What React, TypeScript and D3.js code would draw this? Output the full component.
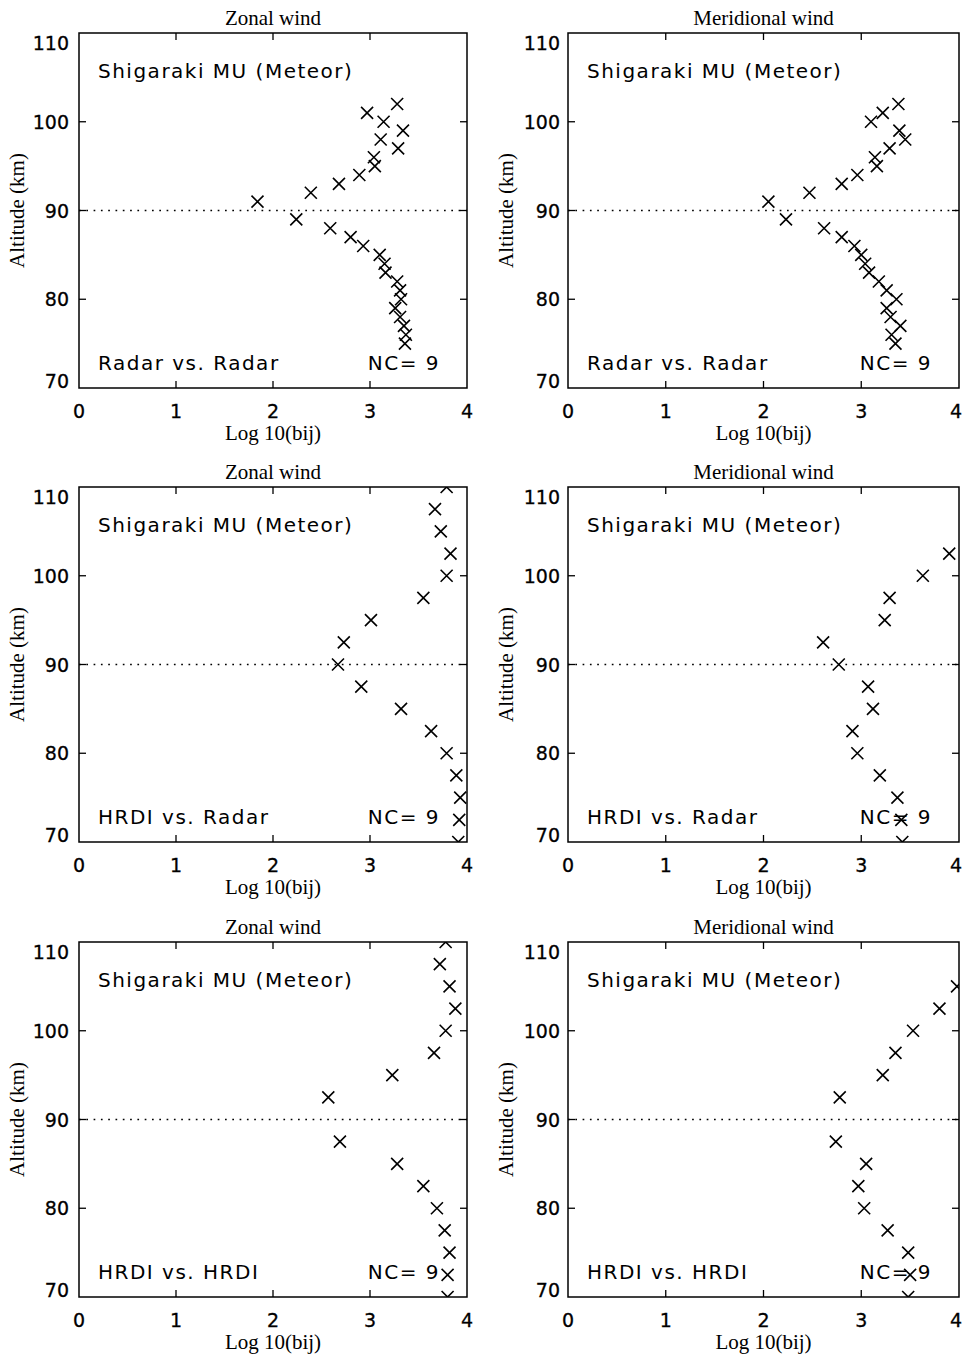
import * as d3 from "d3";

// altitude levels (km)
const altRadar = [102, 101, 100, 99, 98, 97, 96, 95, 94, 93, 92, 91, 89, 88, 87, 86, 85, 84, 83, 82, 81, 80, 79, 78, 77, 76, 75];
const altHrdi = [110, 107.5, 105, 102.5, 100, 97.5, 95, 92.5, 90, 87.5, 85, 82.5, 80, 77.5, 75, 72.5, 70];

// Log10(bij) values (null = not plotted)
const zonalRadarRadar = [3.28, 2.97, 3.14, 3.34, 3.11, 3.29, 3.04, 3.05, 2.89, 2.68, 2.39, 1.84, 2.24, 2.59, 2.8, 2.93, 3.1, 3.15, 3.16, 3.28, 3.31, 3.32, 3.26, 3.31, 3.35, 3.37, 3.36];
const meridRadarRadar = [3.38, 3.22, 3.1, 3.39, 3.45, 3.29, 3.14, 3.16, 2.96, 2.8, 2.47, 2.05, 2.23, 2.62, 2.8, 2.93, 3.0, 3.04, 3.08, 3.18, 3.26, 3.36, 3.26, 3.3, 3.4, 3.31, 3.35];
const zonalHrdiRadar = [3.79, 3.67, 3.73, 3.83, 3.79, 3.55, 3.01, 2.73, 2.67, 2.91, 3.32, 3.63, 3.79, 3.89, 3.93, 3.92, 3.91];
const meridHrdiRadar = [null, null, null, 3.9, 3.63, 3.29, 3.24, 2.61, 2.77, 3.07, 3.12, 2.91, 2.96, 3.19, 3.37, 3.41, 3.42];
const zonalHrdiHrdi = [3.78, 3.72, 3.82, 3.88, 3.78, 3.66, 3.23, 2.57, null, 2.69, 3.28, 3.55, 3.69, 3.77, 3.82, 3.8, 3.8];
const meridHrdiHrdi = [null, null, 3.98, 3.8, 3.53, 3.35, 3.22, 2.78, null, 2.74, 3.05, 2.97, 3.03, 3.27, 3.48, 3.5, 3.48];

const xTicks = [0, 1, 2, 3, 4];
const yTicks = [70, 80, 90, 100, 110];

const panels = [
  { title: "Zonal wind", label: "Radar vs. Radar", alt: altRadar, vals: zonalRadarRadar, col: 0, row: 0 },
  { title: "Meridional wind", label: "Radar vs. Radar", alt: altRadar, vals: meridRadarRadar, col: 1, row: 0 },
  { title: "Zonal wind", label: "HRDI vs. Radar", alt: altHrdi, vals: zonalHrdiRadar, col: 0, row: 1 },
  { title: "Meridional wind", label: "HRDI vs. Radar", alt: altHrdi, vals: meridHrdiRadar, col: 1, row: 1 },
  { title: "Zonal wind", label: "HRDI vs. HRDI", alt: altHrdi, vals: zonalHrdiHrdi, col: 0, row: 2 },
  { title: "Meridional wind", label: "HRDI vs. HRDI", alt: altHrdi, vals: meridHrdiHrdi, col: 1, row: 2 },
];

const colX = [
  [79, 467],
  [568, 959],
];
const rowTop = [33, 487, 942];
const plotH = 355;
const W = 963;

const serif = "'Liberation Serif', 'Times New Roman', serif";
const sans = "'DejaVu Sans', sans-serif";

function Panel({ p, i }: { p: (typeof panels)[number]; i: number }) {
  const [x0, x1] = colX[p.col];
  const top = rowTop[p.row];
  const bottom = top + plotH;
  const x = d3.scaleLinear().domain([0, 4]).range([x0, x1]);
  const y = d3.scaleLinear().domain([70, 110]).range([bottom, top]);
  const pts = p.alt
    .map((a, k) => ({ a, v: p.vals[k] }))
    .filter((d) => d.v !== null) as { a: number; v: number }[];
  const tl = 7;
  const r = 6;
  const clipId = `clip${i}`;

  return (
    <g>
      <defs>
        <clipPath id={clipId}>
          <rect x={x0} y={top} width={x1 - x0} height={plotH} />
        </clipPath>
      </defs>
      <text x={(x0 + x1) / 2} y={top - 8} textAnchor="middle" fontFamily={serif} fontSize={21}>
        {p.title}
      </text>
      {/* dotted line at 90 km */}
      <line x1={x0} x2={x1} y1={y(90)} y2={y(90)} stroke="#000" strokeWidth={1.7} strokeDasharray="1.7,5.6" />
      {/* frame */}
      <rect x={x0} y={top} width={x1 - x0} height={plotH} fill="none" stroke="#000" strokeWidth={1.5} />
      {xTicks.slice(1, -1).map((t) => (
        <g key={"xt" + t}>
          <line x1={x(t)} x2={x(t)} y1={bottom} y2={bottom - tl} stroke="#000" strokeWidth={1.3} />
          <line x1={x(t)} x2={x(t)} y1={top} y2={top + tl} stroke="#000" strokeWidth={1.3} />
        </g>
      ))}
      {yTicks.slice(1, -1).map((t) => (
        <g key={"yt" + t}>
          <line x1={x0} x2={x0 + tl} y1={y(t)} y2={y(t)} stroke="#000" strokeWidth={1.3} />
          <line x1={x1} x2={x1 - tl} y1={y(t)} y2={y(t)} stroke="#000" strokeWidth={1.3} />
        </g>
      ))}
      {xTicks.map((t) => (
        <text
          key={"xl" + t}
          x={Math.min(W - 7, x(t))}
          y={bottom + 30}
          textAnchor="middle"
          fontFamily={sans}
          fontSize={19}
          stroke="#000"
          strokeWidth={0.3}
        >
          {t}
        </text>
      ))}
      {yTicks.map((t) => (
        <text
          key={"yl" + t}
          x={x0 - (p.col === 0 ? 10 : 8)}
          y={Math.max(top + 10, Math.min(bottom - 7, y(t)))}
          textAnchor="end"
          dominantBaseline="central"
          fontFamily={sans}
          fontSize={19}
          stroke="#000"
          strokeWidth={0.3}
        >
          {t}
        </text>
      ))}
      <text x={(x0 + x1) / 2} y={bottom + 52} textAnchor="middle" fontFamily={serif} fontSize={21}>
        Log 10(bij)
      </text>
      <text
        transform={`translate(${x0 - 62},${(top + bottom) / 2}) rotate(-90)`}
        textAnchor="middle"
        dominantBaseline="central"
        fontFamily={serif}
        fontSize={21}
      >
        Altitude (km)
      </text>
      <text x={x0 + 19} y={top + 45} fontFamily={sans} fontSize={20} letterSpacing={1.5}>
        Shigaraki MU (Meteor)
      </text>
      <text x={x0 + 19} y={bottom - 18} fontFamily={sans} fontSize={20} letterSpacing={1.5}>
        {p.label}
      </text>
      <text x={x1 - 27} y={bottom - 18} textAnchor="end" fontFamily={sans} fontSize={20} letterSpacing={1.5}>
        NC= 9
      </text>
      <g clipPath={`url(#${clipId})`}>
        {pts.map((d, k) => {
          const cx = x(d.v);
          const cy = y(d.a);
          return (
            <path
              key={k}
              d={`M${cx - r},${cy - r}L${cx + r},${cy + r}M${cx - r},${cy + r}L${cx + r},${cy - r}`}
              stroke="#000"
              strokeWidth={1.6}
              fill="none"
            />
          );
        })}
      </g>
    </g>
  );
}

export default function App() {
  return (
    <svg width={W} height={1355} style={{ position: "absolute", left: 0, top: 0, background: "#fff" }}>
      <rect width={W} height={1355} fill="#fff" />
      {panels.map((p, i) => (
        <Panel key={i} p={p} i={i} />
      ))}
    </svg>
  );
}
